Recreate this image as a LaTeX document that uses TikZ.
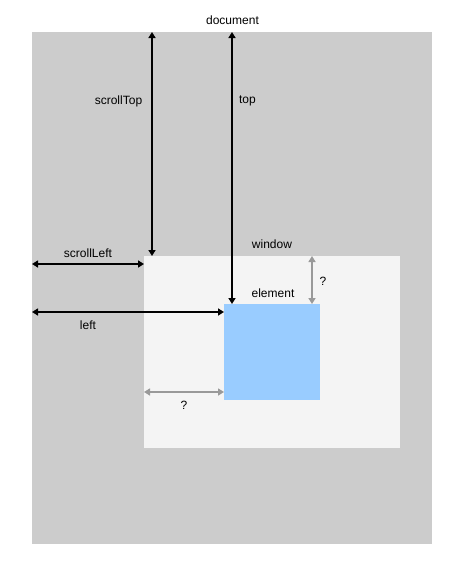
\documentclass[tikz,border=0pt]{standalone}
\usepackage{fontspec}
\setmainfont{Liberation Sans}
\usetikzlibrary{arrows.meta}
\definecolor{docgray}{HTML}{CCCCCC}
\definecolor{wingray}{HTML}{F4F4F4}
\definecolor{elblue}{HTML}{99CCFF}
\definecolor{arrgray}{HTML}{999999}
\begin{document}
\begin{tikzpicture}[x=1pt,y=-1pt,
  box/.style={draw=none,inner sep=0pt,outer sep=0pt,anchor=north west},
  lbl/.style={inner sep=0pt,font=\fontsize{12}{14}\selectfont},
  dim/.style={line width=2pt,{Triangle[length=6pt,width=7pt]}-{Triangle[length=6pt,width=7pt]}},
  dimg/.style={dim,draw=arrgray}]
\useasboundingbox[fill=white] (0,0) rectangle (464,576);
\node[box,fill=docgray,minimum width=400pt,minimum height=512pt] (doc) at (32,32) {};
\node[box,fill=wingray,minimum width=256pt,minimum height=192pt] (win) at (144,256) {};
\node[box,fill=elblue,minimum width=96pt,minimum height=96pt] (elem) at (224,304) {};
\node[lbl] (tdoc) at (232.5,20.5) {document};
\node[lbl] (twin) at (272,244) {window};
\node[lbl] (telem) at (273,293) {element};
% scrollTop
\coordinate (st1) at (152,32);
\coordinate (st2) at (152,256);
\draw[dim] (st1) -- (st2);
\node[lbl] (tst) at (118.5,101) {scrollTop};
% top
\coordinate (tp1) at (232,32);
\coordinate (tp2) at (232,304);
\draw[dim] (tp1) -- (tp2);
\node[lbl] (ttop) at (247.5,101) {top};
% scrollLeft
\coordinate (sl1) at (32,264);
\coordinate (sl2) at (144,264);
\draw[dim] (sl1) -- (sl2);
\node[lbl] (tsl) at (88,253) {scrollLeft};
% left
\coordinate (lf1) at (32,312);
\coordinate (lf2) at (224,312);
\draw[dim] (lf1) -- (lf2);
\node[lbl] (tleft) at (88,325) {left};
% gray ?
\coordinate (q1a) at (312,256);
\coordinate (q1b) at (312,304);
\draw[dimg] (q1a) -- (q1b);
\node[lbl] (tq1) at (323,281) {?};
\coordinate (q2a) at (144,392);
\coordinate (q2b) at (224,392);
\draw[dimg] (q2a) -- (q2b);
\node[lbl] (tq2) at (184,405) {?};
\end{tikzpicture}
\end{document}
